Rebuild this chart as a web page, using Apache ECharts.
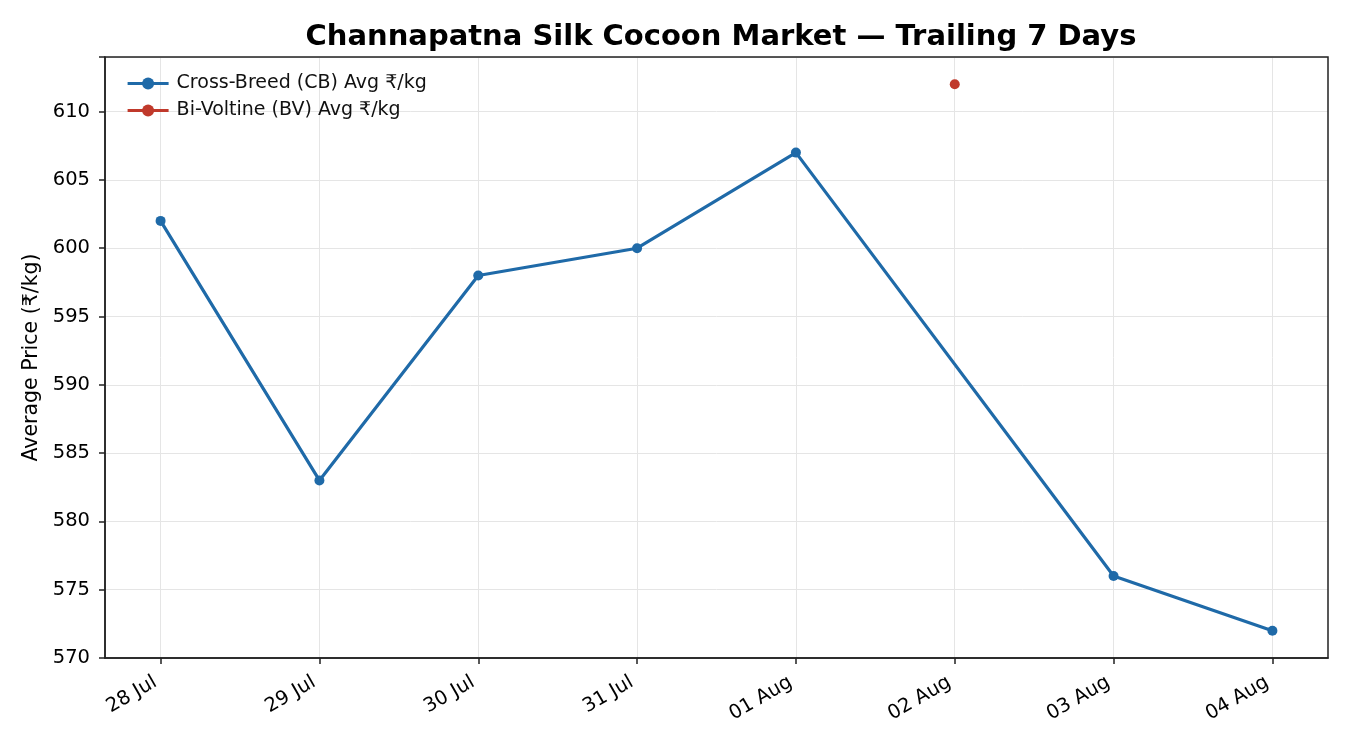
<!DOCTYPE html>
<html>
<head>
<meta charset="utf-8">
<script src="https://cdn.jsdelivr.net/npm/echarts@6/dist/echarts.min.js"></script>
<style>
  html, body { margin: 0; padding: 0; background: #fff; }
  #chart { width: 1350px; height: 750px; }
</style>
</head>
<body>
<div id="chart"></div>
<script>
// data
const days = ['28 Jul', '29 Jul', '30 Jul', '31 Jul', '01 Aug', '02 Aug', '03 Aug', '04 Aug'];
const cbAvg = [602, 583, 598, 600, 607, null, 576, 572];
const bvAvg = [null, null, null, null, null, 612, null, null];
const yTicks = [570, 575, 580, 585, 590, 595, 600, 605, 610];

const font = 'DejaVu Sans';
const axisCol = '#222';
const dayIdx = days.map((d, i) => i);

function pairs(arr) {
  const out = [];
  arr.forEach((v, i) => { if (v !== null) out.push([i, v]); });
  return out;
}

const chart = echarts.init(document.getElementById('chart'));
chart.setOption({
  animation: false,
  title: {
    text: 'Channapatna Silk Cocoon Market — Trailing 7 Days',
    left: 716, textAlign: 'center', top: 18,
    textStyle: { fontFamily: font, fontSize: 29, fontWeight: 'bold', color: '#000' }
  },
  legend: {
    left: 121, top: 69, orient: 'vertical', itemGap: 8,
    itemWidth: 41, itemHeight: 15,
    lineStyle: { width: 3.2 },
    textStyle: { fontFamily: font, fontSize: 19, color: '#111', padding: [0, 0, 0, 3] },
    data: ['Cross-Breed (CB) Avg ₹/kg', 'Bi-Voltine (BV) Avg ₹/kg']
  },
  grid: { left: 105, right: 22, top: 57, bottom: 92 },
  xAxis: {
    type: 'value', min: -0.35, max: 7.35,
    axisLine: { onZero: false, lineStyle: { color: axisCol, width: 1.5 } },
    axisTick: { customValues: dayIdx, length: 6, lineStyle: { color: axisCol, width: 1.5 } },
    axisLabel: {
      customValues: dayIdx, rotate: 30, margin: 20, padding: [0, 6, 0, 0],
      fontFamily: font, fontSize: 19.5, color: '#000',
      formatter: v => days[Math.round(v)]
    },
    splitLine: { show: true, lineStyle: { color: '#e5e5e5', width: 1 } }
  },
  yAxis: {
    type: 'value', min: 570, max: 614, interval: 5,
    name: 'Average Price (₹/kg)', nameLocation: 'middle', nameGap: 61,
    nameTextStyle: { fontFamily: font, fontSize: 20.5, color: '#000' },
    axisLine: { show: true, onZero: false, lineStyle: { color: axisCol, width: 1.5 } },
    axisTick: { show: true, length: 6, lineStyle: { color: axisCol, width: 1.5 } },
    axisLabel: {
      customValues: yTicks, margin: 15,
      fontFamily: font, fontSize: 19.5, color: '#000'
    },
    splitLine: { show: true, lineStyle: { color: '#e5e5e5', width: 1 } }
  },
  series: [
    {
      name: 'Cross-Breed (CB) Avg ₹/kg', type: 'line',
      data: pairs(cbAvg), connectNulls: true,
      symbol: 'circle', symbolSize: 10,
      lineStyle: { color: '#1f6aa8', width: 3.2 },
      itemStyle: { color: '#1f6aa8' }
    },
    {
      name: 'Bi-Voltine (BV) Avg ₹/kg', type: 'line',
      data: pairs(bvAvg),
      symbol: 'circle', symbolSize: 10,
      lineStyle: { color: '#c0392b', width: 3.2 },
      itemStyle: { color: '#c0392b' }
    }
  ]
});
// frame on top/right like the reference axes box
chart.setOption({
  graphic: [{
    type: 'rect', silent: true, z: 100,
    shape: { x: 105, y: 57, width: 1223, height: 601 },
    style: { fill: 'none', stroke: axisCol, lineWidth: 1.5 }
  }]
});
</script>
</body>
</html>
